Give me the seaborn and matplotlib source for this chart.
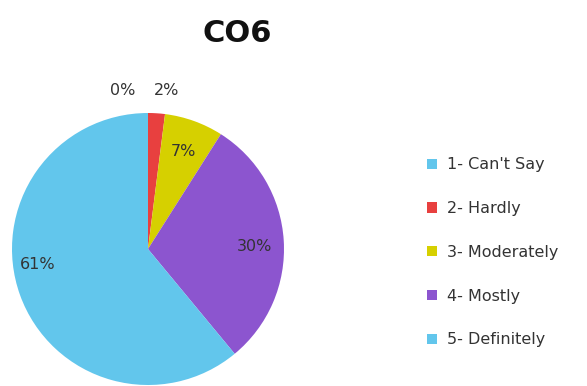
import numpy as np
import matplotlib
matplotlib.use("Agg")
import matplotlib.pyplot as plt
import seaborn as sns

categories = ["1- Can't Say", "2- Hardly", "3- Moderately", "4- Mostly", "5- Definitely"]
values = [0, 2, 7, 30, 61]
colors = ["#62c6ec", "#e8403f", "#d6d000", "#8c55cf", "#62c6ec"]

sns.set_theme(style="white")
plt.rcParams['font.family'] = ['DejaVu Sans']

fig = plt.figure(figsize=(5.87, 3.86), dpi=100)
fig.patch.set_facecolor("white")

ax = fig.add_axes([12 / 587, 1 / 386, 272 / 587, 272 / 386])
wedges, _ = ax.pie(values, colors=colors, startangle=90, counterclock=False,
                   radius=1, wedgeprops=dict(linewidth=0))
ax.set_xlim(-1, 1)
ax.set_ylim(-1, 1)
ax.set_aspect("equal")

# label placement per slice (radius, angle offset in degrees)
place = [(1.18, 9), (1.17, -3), (0.76, 0), (0.78, -2), (0.82, -12)]
total = sum(values)
start = 90.0
for v, (r, off) in zip(values, place):
    span = 360.0 * v / total
    mid = np.deg2rad(start - span / 2 + off)
    ax.text(r * np.cos(mid), r * np.sin(mid), f"{v}%", ha="center", va="center",
            fontsize=11.5, color="#333333")
    start -= span

fig.text(237 / 587, 1 - 33 / 386, "CO6", ha="center", va="center",
         fontsize=22, fontweight="bold", color="#111111")

fig.legend(wedges, categories, loc="upper left", bbox_to_anchor=(413 / 587, 1 - 143 / 386),
           frameon=False, fontsize=11.5, labelspacing=1.8, handlelength=0.6,
           handleheight=0.6, handletextpad=0.6, labelcolor="#333333")

fig.savefig("out.png", dpi=100)
